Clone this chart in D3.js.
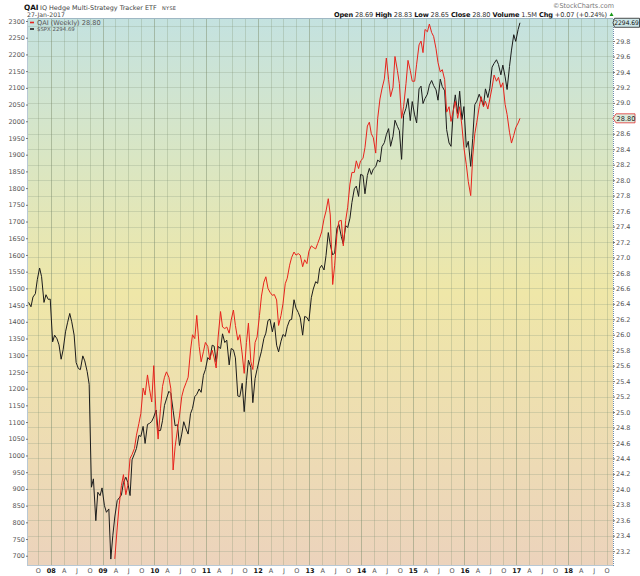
<!DOCTYPE html>
<html>
<head>
<meta charset="utf-8">
<script src="https://cdn.jsdelivr.net/npm/d3@7"></script>
<style>
  body { margin: 0; background: #fff; }
  text { font-family: "DejaVu Sans", Verdana, sans-serif; }
</style>
</head>
<body>
<svg id="chart" width="640" height="576"></svg>
<script>
// Values, two per month (about the 14th and the 28th).
// firstSlot = index of the first half-month in that year (0 = mid Jan, 1 = end Jan ...)
var spx2007 = [1458, 1445, 1474, 1484, 1527, 1561, 1535, 1458, 1481, 1467, 1468];
var spx2008 = [1340, 1360, 1349, 1331, 1288, 1316, 1370, 1397, 1425, 1400, 1360, 1278,
               1260, 1257, 1298, 1283, 1251, 1213, 905, 930, 805, 890, 880, 903];
var spx2009 = [850, 830, 840, 690, 760, 816, 865, 873, 882, 919, 935, 919,
               880, 987, 1005, 1021, 1060, 1057, 1087, 1036, 1093, 1096, 1102, 1115];
var spx2010 = [1136, 1074, 1075, 1104, 1150, 1169, 1192, 1186, 1135, 1089, 1092, 1030,
               1064, 1101, 1079, 1064, 1125, 1141, 1176, 1183, 1199, 1189, 1240, 1257];
var spx2011 = [1293, 1286, 1330, 1327, 1279, 1326, 1320, 1364, 1338, 1345, 1271, 1320,
               1316, 1292, 1178, 1176, 1216, 1131, 1224, 1285, 1263, 1158, 1230, 1258];
var spx2012 = [1289, 1312, 1350, 1366, 1404, 1408, 1370, 1398, 1330, 1310, 1342, 1362,
               1356, 1385, 1405, 1407, 1466, 1441, 1428, 1412, 1360, 1416, 1413, 1402];
var spx2013 = [1472, 1498, 1520, 1515, 1560, 1569, 1555, 1598, 1667, 1631, 1600, 1606,
               1680, 1691, 1655, 1633, 1688, 1682, 1710, 1757, 1798, 1806, 1775, 1841];
var spx2014 = [1838, 1783, 1838, 1859, 1841, 1857, 1864, 1884, 1878, 1924, 1936, 1960,
               1978, 1925, 1955, 2003, 1985, 1972, 1886, 2018, 2039, 2068, 2002, 2059];
var spx2015 = [2019, 1995, 2097, 2105, 2053, 2068, 2081, 2108, 2122, 2107, 2094, 2063,
               2126, 2104, 2091, 1975, 1935, 1925, 2033, 2079, 2023, 2090, 2005, 2044];
var spx2016 = [1922, 1940, 1865, 1948, 2050, 2060, 2081, 2065, 2047, 2097, 2071, 2099,
               2162, 2173, 2184, 2170, 2139, 2168, 2133, 2095, 2164, 2213, 2259, 2239];
var spx2017 = [2275, 2294.69];

var qai2009 = [23.10, 23.50, 23.80, 24.05, 24.19, 23.93, 24.05, 24.40, 24.45, 24.53,
               24.70, 24.85, 24.98, 25.31, 25.22, 25.48, 25.30, 25.13, 25.60];
var qai2010 = [24.95, 24.65, 25.05, 25.33, 25.45, 25.52, 25.45, 25.30, 24.25, 24.55, 24.78, 24.95,
               25.20, 25.30, 25.38, 25.45, 25.80, 26.00, 25.95, 26.25, 25.85, 25.65, 25.78, 25.90];
var qai2011 = [25.85, 25.68, 25.80, 25.70, 25.57, 25.97, 26.30, 26.10, 26.08, 26.10, 26.02, 26.19,
               26.32, 26.12, 25.93, 26.00, 25.75, 25.50, 25.90, 26.15, 25.65, 25.55, 25.90, 25.97];
var qai2012 = [26.25, 26.50, 26.68, 26.75, 26.60, 26.55, 26.51, 26.52, 26.45, 26.12, 26.25, 26.40,
               26.66, 26.73, 26.90, 27.00, 27.07, 27.03, 27.05, 27.03, 26.88, 26.97, 26.92, 27.08];
var qai2013 = [27.15, 27.13, 27.11, 27.18, 27.25, 27.33, 27.50, 27.60, 27.76, 27.55, 26.65, 26.90,
               27.30, 27.47, 27.48, 27.15, 27.48, 27.65, 27.95, 28.10, 28.10, 28.25, 28.15, 28.25];
var qai2014 = [28.28, 28.42, 28.70, 28.75, 28.60, 28.55, 28.35, 28.80, 29.05, 29.18, 29.31, 29.58,
               29.30, 29.08, 29.20, 29.60, 29.42, 29.25, 28.80, 28.95, 29.25, 29.55, 29.42, 29.28];
var qai2015 = [29.28, 29.50, 29.75, 29.80, 29.65, 29.95, 29.92, 30.02, 29.91, 29.86, 29.70, 29.52,
               29.40, 29.43, 29.30, 28.88, 28.95, 28.76, 28.90, 29.02, 28.80, 28.95, 28.70, 28.42];
var qai2016 = [28.20, 27.98, 27.80, 28.30, 28.60, 28.75, 28.95, 29.08, 28.95, 29.02, 28.92, 29.05,
               29.20, 29.36, 29.28, 29.33, 29.20, 29.26, 28.98, 28.85, 28.62, 28.48, 28.58, 28.68];
var qai2017 = [28.74, 28.80];

var lastDate = new Date(2017, 0, 27);
var monthLetters = ["", "", "", "A", "", "", "J", "", "", "O", "", ""];
var leftTicks = d3.range(700, 2301, 50);
var rightTicks = d3.range(116, 151).map(function(v) { return v / 5; });

function buildSeries(chunks) {
  var out = [];
  chunks.forEach(function(c) {
    c.values.forEach(function(v, i) {
      var slot = c.firstSlot + i;
      out.push({ date: new Date(c.year, Math.floor(slot / 2), slot % 2 ? 28 : 14), value: v });
    });
  });
  out[out.length - 1].date = lastDate;
  return out;
}

var spx = buildSeries([
  { year: 2007, firstSlot: 13, values: spx2007 },
  { year: 2008, firstSlot: 0, values: spx2008 },
  { year: 2009, firstSlot: 0, values: spx2009 },
  { year: 2010, firstSlot: 0, values: spx2010 },
  { year: 2011, firstSlot: 0, values: spx2011 },
  { year: 2012, firstSlot: 0, values: spx2012 },
  { year: 2013, firstSlot: 0, values: spx2013 },
  { year: 2014, firstSlot: 0, values: spx2014 },
  { year: 2015, firstSlot: 0, values: spx2015 },
  { year: 2016, firstSlot: 0, values: spx2016 },
  { year: 2017, firstSlot: 0, values: spx2017 }
]);
var qai = buildSeries([
  { year: 2009, firstSlot: 5, values: qai2009 },
  { year: 2010, firstSlot: 0, values: qai2010 },
  { year: 2011, firstSlot: 0, values: qai2011 },
  { year: 2012, firstSlot: 0, values: qai2012 },
  { year: 2013, firstSlot: 0, values: qai2013 },
  { year: 2014, firstSlot: 0, values: qai2014 },
  { year: 2015, firstSlot: 0, values: qai2015 },
  { year: 2016, firstSlot: 0, values: qai2016 },
  { year: 2017, firstSlot: 0, values: qai2017 }
]);

var L = 28, R = 613, T = 19, B = 565;
var svg = d3.select("#chart");

var x = d3.scaleTime().domain([new Date(2007, 6, 24), new Date(2018, 10, 15)]).range([L, R]);
var yL = d3.scaleLinear().domain([672.3, 2306]).range([B, T]);
var yR = d3.scaleLinear().domain([23.021, 30.085]).range([B, T]);

var spxLast = spx[spx.length - 1].value, qaiLast = qai[qai.length - 1].value;

// background gradient
var grad = svg.append("defs").append("linearGradient")
    .attr("id", "bg").attr("x1", 0).attr("y1", 0).attr("x2", 0).attr("y2", 1);
grad.append("stop").attr("offset", "0%").attr("stop-color", "#c4e2e0");
grad.append("stop").attr("offset", "25%").attr("stop-color", "#d9e6c4");
grad.append("stop").attr("offset", "50%").attr("stop-color", "#efe7a8");
grad.append("stop").attr("offset", "100%").attr("stop-color", "#ecd3bc");

svg.append("rect").attr("x", L).attr("y", T).attr("width", R - L).attr("height", B - T)
    .attr("fill", "url(#bg)");

// grid
var quarters = d3.timeMonth.every(3).range(new Date(2007, 9, 1), new Date(2018, 10, 2));
svg.append("g").selectAll("line").data(rightTicks).enter().append("line")
    .attr("x1", L).attr("x2", R)
    .attr("y1", function(d) { return Math.round(yR(d)) + 0.5; })
    .attr("y2", function(d) { return Math.round(yR(d)) + 0.5; })
    .attr("stroke", "#8a9a80").attr("stroke-opacity", 0.28);
svg.append("g").selectAll("line").data(quarters).enter().append("line")
    .attr("x1", function(d) { return Math.round(x(d)) + 0.5; })
    .attr("x2", function(d) { return Math.round(x(d)) + 0.5; })
    .attr("y1", T).attr("y2", B)
    .attr("stroke", "#7f8f70")
    .attr("stroke-opacity", function(d) { return d.getMonth() === 0 ? 0.5 : 0.28; });

// lines
var lineL = d3.line().x(function(d) { return x(d.date); }).y(function(d) { return yL(d.value); });
var lineR = d3.line().x(function(d) { return x(d.date); }).y(function(d) { return yR(d.value); });

svg.append("path").datum(spx).attr("d", lineL)
    .attr("fill", "none").attr("stroke", "#1c1c1c").attr("stroke-width", 1);
svg.append("path").datum(qai).attr("d", lineR)
    .attr("fill", "none").attr("stroke", "#e8231c").attr("stroke-width", 1);

// frame
svg.append("line").attr("x1", L - 0.5).attr("x2", L - 0.5).attr("y1", T).attr("y2", B + 1)
    .attr("stroke", "#b8c8d4");
svg.append("line").attr("x1", L).attr("x2", R).attr("y1", T - 0.5).attr("y2", T - 0.5)
    .attr("stroke", "#9fb8c4");
svg.append("line").attr("x1", L).attr("x2", R).attr("y1", B + 0.5).attr("y2", B + 0.5)
    .attr("stroke", "#b8c8d4");
svg.append("line").attr("x1", R + 0.5).attr("x2", R + 0.5).attr("y1", T).attr("y2", B + 1)
    .attr("stroke", "#6f8fb0").attr("stroke-dasharray", "1,1");

// axes (right labels hidden where the last-value tags sit on top of them)
var tagY = [yL(spxLast), yR(qaiLast)];
var rightLabelTicks = rightTicks.filter(function(v) {
  return tagY.every(function(t) { return Math.abs(yR(v) - t) > 6; });
});

var axL = svg.append("g").attr("transform", "translate(" + L + ",0)")
    .call(d3.axisLeft(yL).tickValues(leftTicks).tickFormat(d3.format("d")).tickSize(2).tickPadding(1));
var axR = svg.append("g").attr("transform", "translate(" + R + ",0)")
    .call(d3.axisRight(yR).tickValues(rightLabelTicks).tickFormat(d3.format(".1f")).tickSize(2).tickPadding(1));
var axB = svg.append("g").attr("transform", "translate(0," + B + ")")
    .call(d3.axisBottom(x).tickValues(quarters).tickSize(0).tickPadding(3)
      .tickFormat(function(d) {
        return d.getMonth() === 0 ? d3.timeFormat("%y")(d) : monthLetters[d.getMonth()];
      }));

[axL, axR, axB].forEach(function(a) {
  a.select(".domain").remove();
  a.selectAll("text").attr("font-family", "DejaVu Sans, Verdana, sans-serif")
      .attr("font-size", 6.5).attr("fill", "#555");
  a.selectAll(".tick line").attr("stroke", "#777");
});
axB.selectAll("text")
    .attr("font-weight", function(d) { return d.getMonth() === 0 ? "bold" : "normal"; })
    .attr("fill", function(d) { return d.getMonth() === 0 ? "#111" : "#555"; });

// last value tags
var ys = tagY[0];
svg.append("path")
    .attr("d", "M" + R + "," + ys + "L614.5," + (ys - 4.5) + "L639.5," + (ys - 4.5) +
               "L639.5," + (ys + 4.5) + "L614.5," + (ys + 4.5) + "Z")
    .attr("fill", "#cde6e8").attr("stroke", "#222").attr("stroke-width", 0.8);
svg.append("text").attr("x", 614.3).attr("y", ys + 2.5)
    .attr("textLength", 24.6).attr("lengthAdjust", "spacingAndGlyphs")
    .attr("font-size", 6.3).attr("fill", "#111")
    .text(d3.format(".2f")(spxLast));
var yq = tagY[1];
svg.append("path")
    .attr("d", "M" + R + "," + yq + "L616," + (yq - 4.5) + "L635," + (yq - 4.5) +
               "L635," + (yq + 4.5) + "L616," + (yq + 4.5) + "Z")
    .attr("fill", "#dcebdc").attr("stroke", "#e03030").attr("stroke-width", 0.8);
svg.append("text").attr("x", 616.5).attr("y", yq + 2.6).attr("font-size", 6.6).attr("fill", "#222")
    .text(d3.format(".2f")(qaiLast));

// legend
svg.append("line").attr("x1", 30).attr("x2", 34).attr("y1", 22.5).attr("y2", 22.5)
    .attr("stroke", "#e8231c").attr("stroke-width", 1.6);
svg.append("text").attr("x", 37).attr("y", 25)
    .attr("font-family", "DejaVu Sans Mono, monospace").attr("font-size", 6.6).attr("fill", "#555")
    .text("QAI (Weekly) " + d3.format(".2f")(qaiLast));
svg.append("line").attr("x1", 30).attr("x2", 34).attr("y1", 29).attr("y2", 29)
    .attr("stroke", "#222").attr("stroke-width", 1.6);
svg.append("text").attr("x", 37).attr("y", 31.2).attr("font-size", 5.4).attr("fill", "#555")
    .text("$SPX " + d3.format(".2f")(spxLast));

// header
svg.append("text").attr("x", 24).attr("y", 10).attr("font-size", 7.3).attr("font-weight", "bold")
    .attr("fill", "#111").text("QAI");
svg.append("text").attr("x", 40).attr("y", 9.6).attr("font-size", 6.45).attr("fill", "#444")
    .text("IQ Hedge Multi-Strategy Tracker ETF");
svg.append("text").attr("x", 162).attr("y", 9.6).attr("font-size", 5).attr("fill", "#444")
    .attr("letter-spacing", 0.3).text("NYSE");
svg.append("text").attr("x", 27).attr("y", 17.3).attr("font-size", 6.2).attr("fill", "#444")
    .text("27-Jan-2017");
svg.append("text").attr("x", 553).attr("y", 8.3).attr("textLength", 61).attr("lengthAdjust", "spacingAndGlyphs")
    .attr("font-size", 6.8).attr("fill", "#777").text("\u00a9StockCharts.com");

var stats = [["Open", "28.69"], ["High", "28.83"], ["Low", "28.65"], ["Close", "28.80"],
             ["Volume", "1.5M"], ["Chg", "+0.07 (+0.24%)"]];
var st = svg.append("text").attr("x", 334).attr("y", 17.2)
    .attr("textLength", 273).attr("lengthAdjust", "spacing")
    .attr("font-size", 6.6).attr("fill", "#333");
stats.forEach(function(s, i) {
  st.append("tspan").attr("font-weight", "bold").attr("fill", "#111").text((i ? "  " : "") + s[0]);
  st.append("tspan").text(" " + s[1]);
});
svg.append("path").attr("d", "M609.5,16L613.5,16L611.5,12.5Z").attr("fill", "#1a9a1a");
</script>
</body>
</html>
